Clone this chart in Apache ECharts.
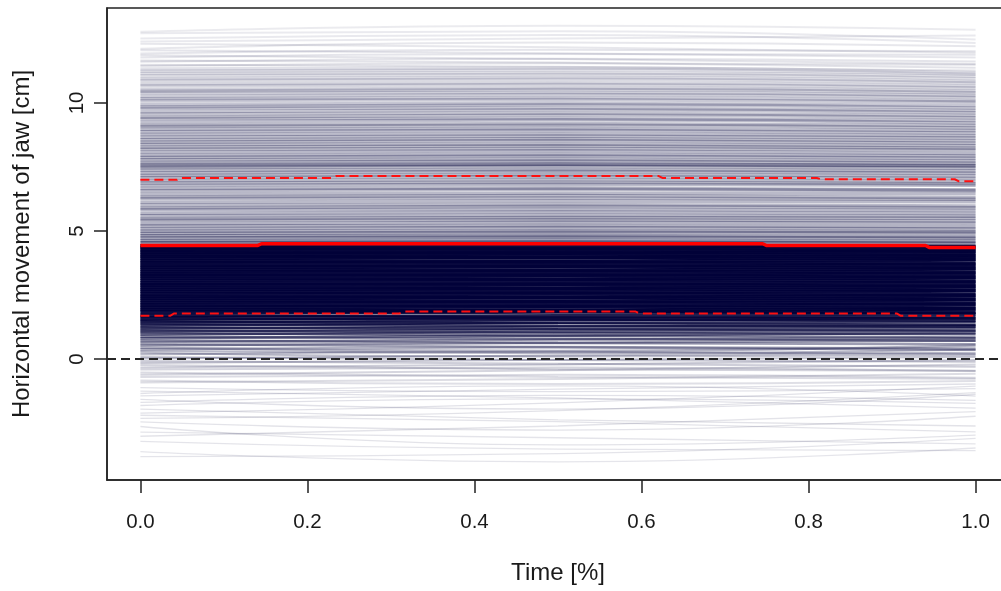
<!DOCTYPE html>
<html>
<head>
<meta charset="utf-8">
<title>Horizontal movement of jaw</title>
<script src="https://cdn.jsdelivr.net/npm/echarts@6/dist/echarts.min.js"></script>
<style>
  html, body { margin: 0; padding: 0; background: #ffffff; }
  #chart { width: 1001px; height: 591px; }
</style>
</head>
<body>
<div id="chart"></div>
<script>
// Normalised time at which every trajectory is sampled
const xSamples = [0, 0.5, 1];

// Individual jaw trajectories [value at t=0, t=0.5, t=1], grouped by height band (cm)
const topTraces = [
  [12.78, 13.02, 12.86], [12.72, 12.80, 12.48], [12.52, 12.66, 12.34], [12.40, 12.52, 12.64],
  [12.31, 12.18, 11.96], [12.12, 12.36, 12.22], [12.06, 11.94, 11.78], [11.93, 12.08, 12.02],
  [11.86, 11.72, 11.52], [11.78, 11.91, 11.88], [11.66, 11.58, 11.38], [11.61, 11.73, 11.62],
  [11.49, 11.41, 11.27], [11.44, 11.55, 11.49]
];
const upperTraces = [
  [11.33, 11.37, 11.18], [11.24, 11.30, 11.12], [11.15, 11.18, 11.04], [11.06, 11.11, 10.95],
  [10.95, 10.99, 10.84], [10.88, 10.93, 10.78], [10.74, 10.79, 10.66], [10.66, 10.72, 10.58],
  [10.52, 10.58, 10.47], [10.46, 10.53, 10.40], [10.39, 10.41, 10.29], [10.26, 10.33, 10.21],
  [10.16, 10.20, 10.09], [10.10, 10.14, 10.04], [9.95, 9.99, 9.90], [9.84, 9.93, 9.80],
  [9.79, 9.80, 9.71], [9.66, 9.73, 9.62], [9.57, 9.61, 9.51], [9.44, 9.53, 9.42],
  [9.39, 9.39, 9.31], [9.27, 9.34, 9.22], [9.14, 9.20, 9.12], [9.08, 9.13, 9.02],
  [8.97, 9.00, 8.92], [8.88, 8.93, 8.83], [8.77, 8.80, 8.72], [8.66, 8.71, 8.63],
  [8.56, 8.60, 8.52], [8.47, 8.53, 8.43], [8.38, 8.40, 8.33], [8.27, 8.33, 8.23],
  [8.19, 8.22, 8.16], [8.07, 8.13, 8.03], [7.96, 8.00, 7.93], [7.87, 7.93, 7.84],
  [7.78, 7.80, 7.73], [7.67, 7.73, 7.64], [7.60, 7.62, 7.56], [7.54, 7.60, 7.54],
  [7.47, 7.53, 7.45], [7.37, 7.40, 7.34], [7.26, 7.33, 7.25], [7.17, 7.21, 7.15],
  [7.08, 7.13, 7.05]
];
const midTraces = [
  [6.96, 7.01, 6.93], [6.87, 6.90, 6.84], [6.78, 6.82, 6.79], [6.66, 6.68, 6.60],
  [6.57, 6.63, 6.58], [6.44, 6.47, 6.45], [6.33, 6.38, 6.30], [6.27, 6.29, 6.24],
  [6.12, 6.17, 6.14], [6.01, 6.03, 5.97], [5.90, 5.96, 5.91], [5.84, 5.85, 5.80],
  [5.69, 5.74, 5.68], [5.59, 5.61, 5.57], [5.48, 5.53, 5.50], [5.42, 5.44, 5.39],
  [5.28, 5.34, 5.30], [5.19, 5.21, 5.16], [5.09, 5.13, 5.08], [4.99, 5.01, 4.97],
  [4.90, 4.95, 4.92], [4.81, 4.82, 4.78], [4.72, 4.76, 4.71], [4.62, 4.64, 4.60],
  [4.54, 4.57, 4.52]
];
const coreTraces = [
  [4.41, 4.43, 4.38], [4.34, 4.30, 4.36], [4.26, 4.28, 4.22], [4.18, 4.14, 4.21],
  [4.09, 4.12, 4.06], [4.01, 3.97, 4.03], [3.93, 3.96, 3.90], [3.84, 3.80, 3.87],
  [3.76, 3.79, 3.72], [3.66, 3.63, 3.69], [3.58, 3.61, 3.55], [3.49, 3.45, 3.52],
  [3.41, 3.44, 3.38], [3.32, 3.28, 3.35], [3.24, 3.27, 3.20], [3.15, 3.11, 3.18],
  [3.06, 3.09, 3.03], [2.97, 2.93, 3.00], [2.89, 2.92, 2.85], [2.80, 2.76, 2.83],
  [2.71, 2.74, 2.68], [2.63, 2.59, 2.66], [2.54, 2.57, 2.50], [2.45, 2.41, 2.48],
  [2.37, 2.40, 2.33], [2.28, 2.24, 2.31], [2.19, 2.22, 2.16], [2.11, 2.07, 2.14],
  [2.02, 2.05, 1.98], [1.93, 1.89, 1.96], [1.85, 1.88, 1.82]
];
const lowerTraces = [
  [1.76, 1.81, 1.79], [1.69, 1.63, 1.59], [1.64, 1.71, 1.74], [1.58, 1.54, 1.49],
  [1.53, 1.61, 1.66], [1.47, 1.39, 1.34], [1.42, 1.51, 1.56], [1.36, 1.29, 1.26],
  [1.31, 1.41, 1.44], [1.24, 1.16, 1.11], [1.19, 1.27, 1.31], [1.12, 1.02, 0.96],
  [1.07, 1.16, 1.21], [1.01, 0.91, 0.84], [0.94, 1.06, 1.09], [0.87, 0.79, 0.71],
  [0.81, 0.92, 1.01], [0.73, 0.62, 0.57], [0.66, 0.76, 0.81], [0.58, 0.46, 0.36],
  [0.52, 0.63, 0.72], [0.44, 0.31, 0.52], [0.38, 0.47, 0.41]
];
const zeroTraces = [
  [0.31, 0.22, 0.36], [0.24, 0.09, 0.14], [0.17, 0.28, 0.19], [0.08, -0.04, -0.11],
  [0.02, 0.13, 0.24], [-0.08, -0.19, -0.31], [-0.16, -0.03, 0.08], [-0.24, -0.41, -0.46],
  [-0.33, -0.22, -0.04], [-0.41, -0.33, -0.47], [-0.53, -0.71, -0.77], [-0.62, -0.44, -0.22],
  [-0.71, -0.62, -0.74], [-0.84, -0.98, -0.86], [-0.92, -0.78, -0.58]
];
const bottomTraces = [
  [-1.12, -1.28, -1.16], [-1.26, -1.52, -1.92], [-1.35, -1.05, -1.45], [-1.44, -1.18, -0.98],
  [-1.58, -1.96, -1.38], [-1.70, -1.42, -1.62], [-1.82, -1.56, -1.74], [-1.96, -2.38, -2.62],
  [-2.12, -1.72, -1.06], [-2.20, -2.45, -2.85], [-2.32, -2.02, -1.32], [-2.46, -2.78, -2.24],
  [-2.64, -3.36, -2.98], [-2.86, -3.08, -3.32], [-3.02, -2.62, -2.06], [-3.22, -3.52, -3.58],
  [-3.62, -4.02, -3.48], [-3.82, -3.70, -3.10]
];

// Pointwise median and outer quantiles of all trajectories
const medianX = [0, 0.14, 0.145, 0.745, 0.75, 0.94, 0.945, 1];
const medianY = [4.43, 4.43, 4.50, 4.50, 4.43, 4.43, 4.35, 4.35];
const upperQX = [0, 0.044, 0.048, 0.23, 0.235, 0.62, 0.625, 0.81, 0.815, 0.975, 0.98, 1];
const upperQY = [7.00, 7.00, 7.07, 7.07, 7.15, 7.15, 7.07, 7.07, 7.02, 7.02, 6.94, 6.94];
const lowerQX = [0, 0.036, 0.04, 0.31, 0.315, 0.593, 0.598, 0.906, 0.91, 1];
const lowerQY = [1.69, 1.69, 1.77, 1.77, 1.85, 1.85, 1.77, 1.77, 1.69, 1.69];

// Axis ticks
const xTicks = [0, 0.2, 0.4, 0.6, 0.8, 1.0];
const yTicks = [0, 5, 10];

// ---- styling ----
const traceColor = '0,0,56';
// opacity of a trajectory by its mean height (emulates many overlapping translucent curves)
const shadeStops = [
  [-4.2, 0.10], [-1.0, 0.12], [-0.5, 0.15], [0.0, 0.22], [0.5, 0.32], [1.0, 0.56],
  [1.5, 0.80], [1.8, 0.92], [4.45, 0.94], [4.55, 0.40], [5.0, 0.31], [6.0, 0.27],
  [7.0, 0.27], [7.5, 0.29], [8.0, 0.28], [9.0, 0.26], [10.0, 0.22], [10.5, 0.18],
  [11.0, 0.13], [11.5, 0.11], [12.0, 0.10], [13.2, 0.07]
];
function shadeAt(v) {
  if (v <= shadeStops[0][0]) return shadeStops[0][1];
  for (let i = 1; i < shadeStops.length; i++) {
    const a = shadeStops[i - 1], b = shadeStops[i];
    if (v <= b[0]) return a[1] + (b[1] - a[1]) * (v - a[0]) / (b[0] - a[0]);
  }
  return shadeStops[shadeStops.length - 1][1];
}
const bandWidths = [
  [bottomTraces, 1.3], [zeroTraces, 2], [lowerTraces, 2.5], [midTraces, 3.5],
  [upperTraces, 3.5], [topTraces, 2], [coreTraces, 4]
];

const series = [];
bandWidths.forEach(([traces, w]) => {
  traces.forEach(tr => {
    const mean = (tr[0] + tr[1] + tr[2]) / 3;
    series.push({
      type: 'line',
      data: xSamples.map((x, i) => [x, tr[i]]),
      smooth: 0.5,
      symbol: 'none',
      silent: true,
      z: 1,
      lineStyle: { color: 'rgba(' + traceColor + ',' + shadeAt(mean).toFixed(3) + ')', width: w }
    });
  });
});

// reference line at zero
series.push({
  type: 'line', data: [], silent: true, z: 3,
  markLine: {
    silent: true, symbol: 'none', animation: false,
    label: { show: false },
    lineStyle: { color: '#262626', width: 1.8, type: [9, 5] },
    data: [{ yAxis: 0 }]
  }
});
series.push({
  type: 'line', data: medianX.map((x, i) => [x, medianY[i]]),
  symbol: 'none', silent: true, z: 4,
  lineStyle: { color: '#ff0000', width: 3.5 }
});
series.push({
  type: 'line', data: upperQX.map((x, i) => [x, upperQY[i]]),
  symbol: 'none', silent: true, z: 4,
  lineStyle: { color: '#ff1010', width: 2, type: [9, 5] }
});
series.push({
  type: 'line', data: lowerQX.map((x, i) => [x, lowerQY[i]]),
  symbol: 'none', silent: true, z: 4,
  lineStyle: { color: '#ff1010', width: 2, type: [9, 5] }
});

const textColor = '#1a1a1a';
const font = 'Liberation Sans, Arial, sans-serif';

const chart = echarts.init(document.getElementById('chart'), null, { renderer: 'canvas' });
chart.setOption({
  animation: false,
  backgroundColor: '#ffffff',
  grid: {
    left: 107, right: -8, top: 8, bottom: 111,
    containLabel: false, outerBoundsMode: 'none',
    show: true, borderColor: '#222222', borderWidth: 1.5, backgroundColor: 'transparent'
  },
  xAxis: {
    type: 'value', min: -0.04, max: 1.04,
    name: 'Time [%]', nameLocation: 'middle', nameGap: 81,
    nameTextStyle: { color: textColor, fontSize: 24, fontFamily: font },
    axisLine: { show: true, onZero: false, lineStyle: { color: '#222222', width: 1.5 } },
    axisTick: { show: true, customValues: xTicks, length: 13, inside: false,
                lineStyle: { color: '#222222', width: 1.5 } },
    axisLabel: { customValues: xTicks, margin: 32, color: textColor, fontSize: 20.5,
                 fontFamily: font, formatter: v => v.toFixed(1) },
    splitLine: { show: false }
  },
  yAxis: {
    type: 'value', min: -4.73, max: 13.71,
    name: 'Horizontal movement of jaw [cm]', nameLocation: 'middle', nameGap: 73,
    nameRotate: 90,
    nameTextStyle: { color: textColor, fontSize: 24, fontFamily: font },
    axisLine: { show: true, onZero: false, lineStyle: { color: '#222222', width: 1.5 } },
    axisTick: { show: true, customValues: yTicks, length: 13, inside: false,
                lineStyle: { color: '#222222', width: 1.5 } },
    axisLabel: { customValues: yTicks, rotate: 90, margin: 19.5, color: textColor,
                 fontSize: 20.5, fontFamily: font, formatter: v => String(v) },
    splitLine: { show: false }
  },
  series: series
});
</script>
</body>
</html>
